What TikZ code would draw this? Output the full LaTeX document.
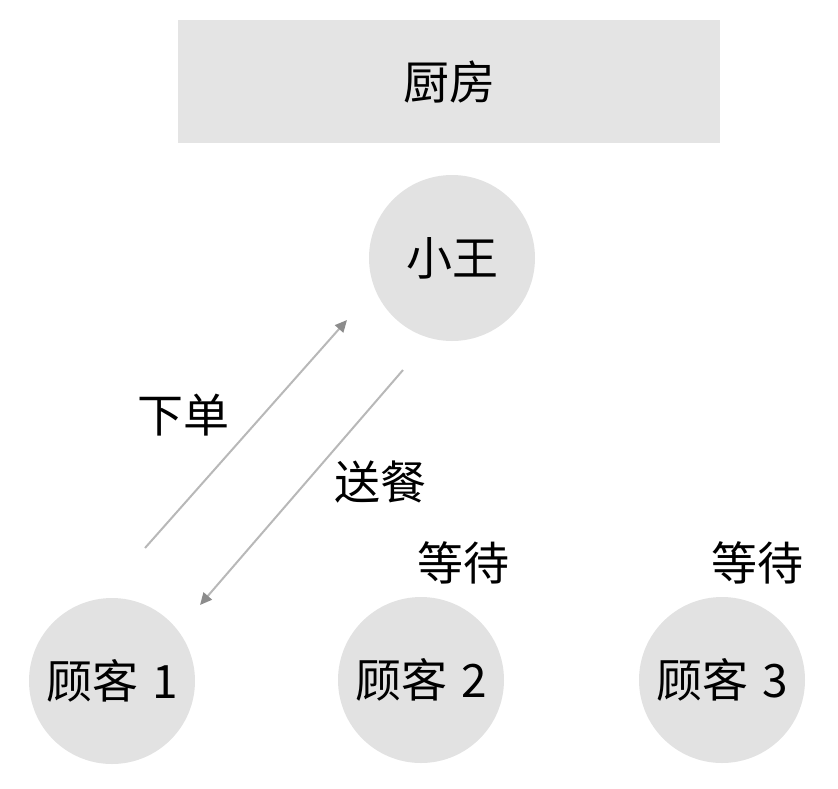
\documentclass[tikz,border=0pt]{standalone}
\usepackage{fontspec}
\setmainfont{Noto Sans CJK SC}
\usetikzlibrary{arrows.meta}
\definecolor{boxgray}{HTML}{E4E4E4}
\definecolor{circgray}{HTML}{E2E2E2}
\definecolor{arrgray}{HTML}{B8B8B8}
\definecolor{headgray}{HTML}{8C8C8C}
\tikzset{
  bigtext/.style={font=\fontsize{46pt}{50pt}\selectfont},
  circ/.style={circle, fill=circgray, minimum size=166pt, inner sep=0pt, bigtext},
  kitchen/.style={rectangle, fill=boxgray, minimum width=542pt, minimum height=123pt, inner sep=0pt, bigtext},
  lbl/.style={bigtext, inner sep=0pt},
  flow/.style={draw=arrgray, line width=2pt, -{Triangle[length=12pt, width=11pt, fill=headgray, color=headgray]}}
}
\begin{document}
\begin{tikzpicture}[x=1pt, y=-1pt]
\useasboundingbox (0,0) rectangle (838,788);
\node[kitchen] (k) at (449,81.5) {厨房};
\node[circ] (w) at (452,258) {小王};
\node[circ] (c1) at (112,681) {顾客\hspace{0.3em}1};
\node[circ] (c2) at (421,680) {顾客\hspace{0.3em}2};
\node[circ] (c3) at (722,680) {顾客\hspace{0.3em}3};
\coordinate (a1s) at (145,548);
\coordinate (a1e) at (347,320);
\coordinate (a2s) at (403,370);
\coordinate (a2e) at (200,605);
\draw[flow] (a1s) -- (a1e);
\draw[flow] (a2s) -- (a2e);
\node[lbl] (l1) at (183,415) {下单};
\node[lbl] (l2) at (380,482) {送餐};
\node[lbl] (l3) at (463,563) {等待};
\node[lbl] (l4) at (757,563) {等待};
\end{tikzpicture}
\end{document}
